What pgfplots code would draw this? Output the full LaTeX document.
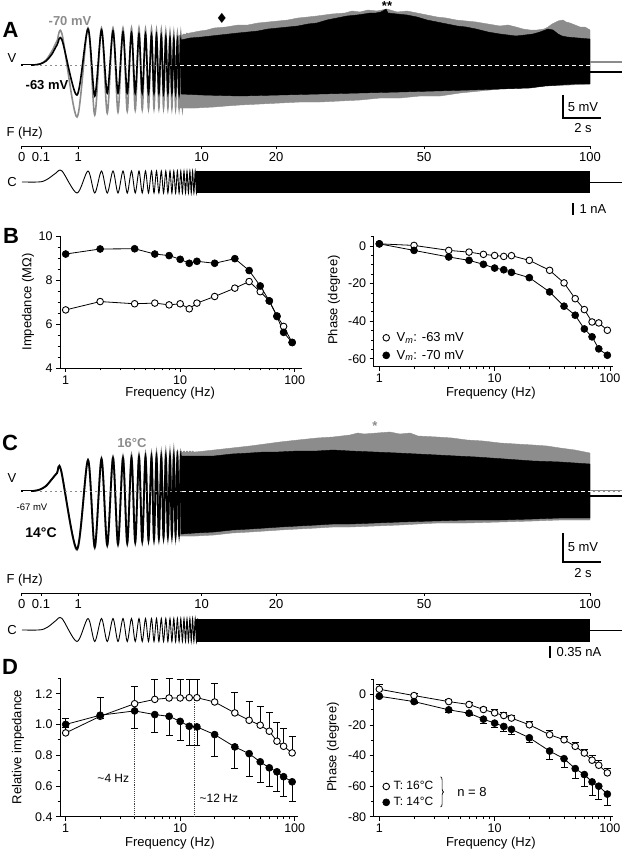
\documentclass[border=0pt]{standalone}
\usepackage{fontspec}
\setmainfont{Liberation Sans}
\newfontfamily\dejavu{DejaVu Sans}
\usepackage{pgfplots}
\pgfplotsset{compat=1.18}
\usetikzlibrary{decorations.pathreplacing}
\definecolor{tgray}{RGB}{140,140,140}
\newcommand\fs{\fontsize{13}{15}\selectfont}
\newcommand\fst{\fontsize{12.5}{14}\selectfont}
\newcommand\fsm{\fontsize{9.5}{11}\selectfont}
\newcommand\fsh{\fontsize{12}{14}\selectfont}
\newcommand\fsb{\fontsize{13}{15}\selectfont\bfseries}
\newcommand\fL{\fontsize{22}{24}\selectfont\bfseries}
\pgfplotsset{
 plotax/.style={scale only axis, axis x line*=bottom, axis y line*=left,
   tick align=outside, major tick length=4pt, minor tick length=2.5pt,
   xtick={1,10,100}, xticklabels={1,10,100},
   minor xtick={2,3,4,5,6,7,8,9,20,30,40,50,60,70,80,90},
   axis line style={line width=0.8pt}, tick style={black, line width=0.8pt},
   tick label style={font=\fst}, label style={font=\fs}, clip=false,
   legend image code/.code={\draw[##1] plot coordinates {(0pt,0pt)};},
   legend style={font=\fs, draw=none, fill=none, inner sep=0pt, cells={anchor=west}},
   /pgf/number format/assume math mode=true},
 fmark/.style={black, line width=0.8pt, mark=*, mark size=3.5pt, mark options={fill=black, draw=black, line width=0.6pt}},
 omark/.style={black, line width=0.8pt, mark=*, mark size=3.3pt, mark options={fill=white, draw=black, line width=0.9pt}},
 faxis/.style={scale only axis, width=568.3pt, height=5pt, xmin=21.7, xmax=590, ymin=0, ymax=1,
   axis x line*=bottom, axis y line=none, xtick={21.7,41,78.3,201.7,276,424,590},
   xticklabels={0,0.1,1,10,20,50,100}, tick align=outside, major tick length=3pt,
   tick style={black, line width=0.8pt}, axis line style={line width=0.8pt},
   tick label style={font=\fs}, /pgf/number format/assume math mode=true},
}
\begin{document}
\begin{tikzpicture}
\useasboundingbox (0,0) rectangle (622pt,852pt);
% ---------------- canvas for traces (pixel coordinates, y down)
\begin{axis}[at={(0pt,0pt)}, anchor=south west, scale only axis, width=622pt, height=852pt,
  xmin=0, xmax=622, ymin=0, ymax=852, y dir=reverse, hide axis, clip=false]
% ===== Panel A voltage
\addplot[tgray, line width=1.6pt, smooth] coordinates {(22,65)(33,65)(40,64)(46,60)(52,51)(57,41)(62,34)(77,117)(88,28)(94.75,115)(101.5,28)(107.25,113)(113,28)(118,112)(123,28)(127.25,111)(131.5,28)(135.25,110)(139,28)(142.25,109.5)(145.5,29)(148.5,109)(151.5,29)(154,108.5)(156.5,30)(158.9,108)(161.3,30)(163.55,108)(165.8,31)(167.9,108)(170,32)(171.9,108)(173.8,33)(175.6,108)(177.4,34)(179.1,108)(180.8,34)(182.4,108)(184,34)(185.5,108)(187,33)(188.45,108)(189.9,33)(191.25,108)(192.6,33)(193.9,108)(195.2,33)(196.45,108)(197.7,32)};
\addplot[fill=tgray, draw=tgray, line width=0.4pt] coordinates {(178,36)(190,33)(200,31)(207,30)(214,28)(226,27)(238,25)(248,25)(258,23)(268,22)(278,21)(288,20)(298,18)(308,17)(317,16)(332,14)(345,13)(352,11)(360,12)(368,10)(377,11)(387,9)(397,12)(407,11)(417,13)(427,15)(437,17)(446,18)(456,20)(466,21)(476,22)(488,24)(500,26)(508,25)(516,27)(523,29)(530,30)(537,30)(544,29)(548,27)(552,24)(558,21)(563,20)(566,22)(570,23)(575,25)(580,27)(585,27)(590,30)(590,84)(570,85)(545,86)(520,88)(500,89)(480,91)(460,93)(440,96)(420,96)(400,98)(380,98)(360,100)(340,101)(320,102)(300,102)(280,103)(260,104)(240,105)(226,106)(214,107)(195,108)(178,108)} -- cycle;
\addplot[black, line width=1.6pt, smooth] coordinates {(22,65)(33,65)(40,64)(46,61)(52,54)(57,45)(62,40)(77,95)(88,29)(94.75,96)(101.5,30)(107.25,93)(113,31)(118,93)(123,32)(127.25,93)(131.5,33)(135.25,93)(139,34)(142.25,93)(145.5,34)(148.5,93)(151.5,35)(154,93)(156.5,35)(158.9,93)(161.3,36)(163.55,93)(165.8,37)(167.9,93)(170,38)(171.9,93)(173.8,39)(175.6,93)(177.4,40)(179.1,94)(180.8,40)(182.4,94)};
\addplot[fill=black, draw=black, line width=0.4pt] coordinates {(181,40)(190,38)(202,37)(211,36)(220,35)(229,34)(238,33)(248,32)(258,31)(268,29)(278,28)(288,27)(298,26)(308,24)(317,23)(327,20)(337,18)(347,16)(357,15)(364,14)(370,13)(376,13)(381,12)(386,9)(388,13)(397,14)(407,15)(417,17)(427,20)(437,22)(447,24)(457,26)(466,27)(476,29)(488,32)(500,34)(508,35)(516,36)(525,35)(533,34)(540,32)(548,29)(553,30)(558,34)(562,36)(567,37)(578,38)(590,39)(590,84)(575,84)(560,85)(545,86)(530,88)(500,89)(470,90)(435,91)(400,92)(360,93)(320,94)(280,95)(240,96)(202,95)(181,94)} -- cycle;
\addplot[black, line width=2.6pt] coordinates {(21,65)(33,65)};
\addplot[white, line width=0.8pt] coordinates {(23,65)(31,65)};
\addplot[tgray, line width=1.6pt] coordinates {(590,62)(622,62)};
\addplot[black, line width=2pt] coordinates {(590,72)(622,72)};
\addplot[tgray, line width=0.9pt, dash pattern=on 2pt off 3pt] coordinates {(35,65)(180,65)};
\addplot[white, line width=1pt, dash pattern=on 4pt off 3pt] coordinates {(180,65)(590,65)};
\addplot[black, line width=1.5pt] coordinates {(563,95)(563,118)(601,118)};
% ===== Panel A current
\addplot[black, line width=0.9pt, smooth] coordinates {(22,182)(38,182)(44,181)(50,177.5)(56,173)(62,171)(77,193)(88,171)(94.75,193)(101.5,171)(107.25,193)(113,171)(118,193)(123,171)(127.25,193)(131.5,171)(135.25,193)(139,171)(142.25,193)(145.5,171)(148.5,193)(151.5,171)(154,193)(156.5,171)(158.9,193)(161.3,171)(163.55,193)(165.8,171)(167.9,193)(170,171)(171.9,193)(173.8,171)(175.6,193)(177.4,171)(179.1,193)(180.8,171)(182.4,193)(184,171)(185.5,193)(187,171)(188.45,193)(189.9,171)(191.25,193)(192.6,171)(193.9,193)(195.2,171)(196.45,193)(197.7,171)};
\addplot[fill=black, draw=none] coordinates {(196,171)(590,171)(590,193)(196,193)} -- cycle;
\addplot[black, line width=0.9pt] coordinates {(590,182)(622,182)};
\addplot[black, line width=1.5pt] coordinates {(573,203)(573,215)};
% ===== Panel C voltage
\addplot[tgray, line width=1.8pt, smooth] coordinates {(22,491)(33,491)(40,489.5)(46,486)(52,479)(57,473)(61,470)(77,550)(88,460)(94.75,548)(101.5,458)(107.25,546)(113,457)(118,545)(123,456)(127.25,544)(131.5,455)(135.25,543)(139,455)(142.25,542)(145.5,454)(148.5,541)(151.5,454)(154,540)(156.5,453)(158.9,539)(161.3,453)(163.55,538)(165.8,452)(167.9,538)(170,452)(171.9,537)(173.8,451)(175.6,537)(177.4,451)(179.1,536)(180.8,451)(182.4,536)(184,451)(185.5,536)(187,451)(188.45,536)(189.9,451)(191.25,536)(192.6,451)(193.9,536)(195.2,452)(196.45,536)(197.7,452)};
\addplot[fill=tgray, draw=tgray, line width=0.4pt] coordinates {(180,452)(195,452)(205,451)(214,450)(232,448)(250,446)(265,444)(280,442)(298,440)(317,438)(333,437)(350,435)(358,433)(364,434)(377,433)(390,432)(400,434)(410,433)(418,436)(437,437)(452,438)(467,440)(483,441)(500,443)(516,444)(533,445)(547,446)(560,448)(575,450)(590,453)(590,520)(560,520)(533,521)(500,522)(467,523)(437,523)(418,524)(400,525)(375,526)(350,527)(333,527)(317,528)(298,529)(280,530)(265,531)(250,532)(232,533)(214,535)(195,536)(180,536)} -- cycle;
\addplot[black, line width=1.8pt, smooth] coordinates {(22,491)(33,491)(40,489.5)(46,486)(52,479)(57,473)(61,470)(77,549)(88,460)(94.75,547)(101.5,459)(107.25,545)(113,458)(118,544)(123,458)(127.25,543)(131.5,458)(135.25,542)(139,457)(142.25,541)(145.5,457)(148.5,540)(151.5,457)(154,539)(156.5,457)(158.9,538)(161.3,457)(163.55,537)(165.8,457)(167.9,536)(170,457)(171.9,535)(173.8,457)(175.6,535)(177.4,457)(179.1,534)(180.8,457)(182.4,534)};
\addplot[fill=black, draw=black, line width=0.4pt] coordinates {(181,456)(195,456)(214,456)(232,454)(250,453)(264,452)(278,452)(298,451)(317,451)(333,450)(350,451)(374,452)(397,453)(417,454)(437,455)(456,456)(476,457)(505,459)(533,461)(560,462)(590,464)(590,518)(560,518)(533,519)(500,520)(467,520)(433,521)(400,522)(375,523)(350,524)(333,524)(317,525)(298,526)(280,527)(265,528)(250,529)(232,530)(214,532)(195,533)(181,534)} -- cycle;
\addplot[black, line width=2.6pt] coordinates {(21,491)(33,491)};
\addplot[white, line width=0.8pt] coordinates {(23,491)(31,491)};
\addplot[tgray, line width=2.4pt] coordinates {(590,491)(622,491)};
\addplot[white, line width=0.7pt, dash pattern=on 3pt off 2pt] coordinates {(590,491)(622,491)};
\addplot[black, line width=1.8pt] coordinates {(590,496)(622,496)};
\addplot[tgray, line width=0.9pt, dash pattern=on 2pt off 3pt] coordinates {(40,491)(182,491)};
\addplot[white, line width=1pt, dash pattern=on 4pt off 3pt] coordinates {(182,491)(590,491)};
\addplot[black, line width=1.5pt] coordinates {(563,533)(563,562)(601,562)};
% ===== Panel C current
\addplot[black, line width=0.9pt, smooth] coordinates {(22,630)(38,630)(44,629)(50,625.5)(56,620.5)(62,618.5)(77,641.5)(88,618.5)(94.75,641.5)(101.5,618.5)(107.25,641.5)(113,618.5)(118,641.5)(123,618.5)(127.25,641.5)(131.5,618.5)(135.25,641.5)(139,618.5)(142.25,641.5)(145.5,618.5)(148.5,641.5)(151.5,618.5)(154,641.5)(156.5,618.5)(158.9,641.5)(161.3,618.5)(163.55,641.5)(165.8,618.5)(167.9,641.5)(170,618.5)(171.9,641.5)(173.8,618.5)(175.6,641.5)(177.4,618.5)(179.1,641.5)(180.8,618.5)(182.4,641.5)(184,618.5)(185.5,641.5)(187,618.5)(188.45,641.5)(189.9,618.5)(191.25,641.5)(192.6,618.5)(193.9,641.5)(195.2,618.5)(196.45,641.5)(197.7,618.5)};
\addplot[fill=black, draw=none] coordinates {(196,618.5)(590,618.5)(590,641.5)(196,641.5)} -- cycle;
\addplot[black, line width=0.9pt] coordinates {(590,630)(622,630)};
\addplot[black, line width=1.5pt] coordinates {(550,646)(550,658)};
% ===== texts
\node[font=\fL] at (axis cs:10.5,29.5) {A};
\node[font=\fsb, text=tgray] at (axis cs:70,21) {-70 mV};
\node[font=\fs] at (axis cs:12,58) {V};
\node[font=\fsb] at (axis cs:47,85) {-63 mV};
\node[font=\dejavu\fontsize{14}{14}\selectfont] at (axis cs:222,18) {♦};
\node[font=\fsb] at (axis cs:387,6) {**};
\node[font=\fs] at (axis cs:583,107) {5 mV};
\node[font=\fs] at (axis cs:583,128) {2 s};
\node[font=\fs, anchor=west] at (axis cs:3,133) {F (Hz)};
\node[font=\fs] at (axis cs:12,182) {C};
\node[font=\fs, anchor=west] at (axis cs:576,209) {1 nA};
\node[font=\fL] at (axis cs:11,236) {B};
\node[font=\fL] at (axis cs:10,443) {C};
\node[font=\fsb, text=tgray] at (axis cs:132,443) {16°C};
\node[font=\fsb, text=tgray] at (axis cs:375,426) {*};
\node[font=\fs] at (axis cs:12,478) {V};
\node[font=\fsm] at (axis cs:32,507) {-67 mV};
\node[font=\fontsize{14}{16}\selectfont\bfseries] at (axis cs:41,533) {14°C};
\node[font=\fs] at (axis cs:583,547) {5 mV};
\node[font=\fs] at (axis cs:583,573) {2 s};
\node[font=\fs, anchor=west] at (axis cs:3,580) {F (Hz)};
\node[font=\fs] at (axis cs:12,630) {C};
\node[font=\fs, anchor=west] at (axis cs:553,652) {0.35 nA};
\node[font=\fL] at (axis cs:10,667) {D};
\end{axis}
% ---------------- frequency scales
\begin{axis}[faxis, at={(21.7pt,706pt)}, anchor=south west]
\addplot[draw=none] coordinates {(100,0.5)};
\end{axis}
\begin{axis}[faxis, at={(21.7pt,259pt)}, anchor=south west]
\addplot[draw=none] coordinates {(100,0.5)};
\end{axis}
% ---------------- Panel B left
\begin{semilogxaxis}[plotax, at={(60pt,484pt)}, anchor=south west, width=242pt, height=132pt,
  xmin=0.892, xmax=115.8, ymin=4, ymax=10, ytick={4,6,8,10}, minor y tick num=3,
  ylabel={Impedance (MΩ)}, xlabel={Frequency (Hz)},
  ylabel style={at={(axis description cs:-0.132,0.5)}, anchor=center},
  xlabel style={at={(axis description cs:0.455,-0.19)}, anchor=center}]
\addplot[omark] coordinates {(1,6.64)(2,7.02)(4,6.92)(6,6.95)(8,6.87)(10,6.92)(12,6.69)(14,6.95)(20,7.25)(30,7.63)(40,7.93)(50,7.47)(60,7.05)(70,6.37)(80,5.89)(95,5.16)};
\addplot[fmark] coordinates {(1,9.18)(2,9.41)(4,9.42)(6,9.18)(8,9.11)(10,8.94)(12,8.76)(14,8.85)(20,8.76)(30,8.97)(40,8.43)(50,7.73)(60,7.05)(70,6.34)(80,5.62)(95,5.16)};
\end{semilogxaxis}
% ---------------- Panel B right
\begin{semilogxaxis}[plotax, at={(373.7pt,485.3pt)}, anchor=south west, width=239pt, height=130pt,
  xmin=0.894, xmax=105.7, ymin=-64.2, ymax=5, ytick={0,-20,-40,-60}, minor ytick={5,-5,-10,-15,-25,-30,-35,-45,-50,-55},
  ylabel={Phase (degree)}, xlabel={Frequency (Hz)},
  ylabel style={at={(axis description cs:-0.166,0.513)}, anchor=center},
  xlabel style={at={(axis description cs:0.49,-0.2)}, anchor=center},
  legend style={at={(axis description cs:0.037,0.28)}, anchor=north west, row sep=3pt, column sep=5pt}]
\addplot[omark, forget plot] coordinates {(1,1.2)(2,0.35)(4,-2.3)(6,-3.2)(8,-4.4)(10,-5.0)(12,-5.5)(14,-5.1)(20,-7.6)(30,-12.9)(40,-19.6)(50,-28.0)(60,-33.8)(70,-40.4)(80,-40.9)(95,-44.8)};
\addplot[fmark, forget plot] coordinates {(1,1.2)(2,-2.3)(4,-5.8)(6,-7.6)(8,-9.7)(10,-11.7)(12,-12.6)(14,-14.0)(20,-16.8)(30,-24.4)(40,-32.0)(50,-36.8)(60,-44.1)(70,-48.3)(80,-54.7)(95,-58.1)};
\addlegendimage{omark}
\addlegendentry{V\textsubscript{\textit{m}}: -63 mV}
\addlegendimage{fmark}
\addlegendentry{V\textsubscript{\textit{m}}: -70 mV}
\end{semilogxaxis}
% ---------------- Panel D left
\begin{semilogxaxis}[plotax, at={(60pt,35.3pt)}, anchor=south west, width=238pt, height=138.4pt,
  xmin=0.892, xmax=106.9, ymin=0.4, ymax=1.3, ytick={0.4,0.6,0.8,1.0,1.2}, minor ytick={0.5,0.7,0.9,1.1,1.3},
  yticklabel style={/pgf/number format/.cd, fixed, fixed zerofill, precision=1},
  ylabel={Relative impedance}, xlabel={Frequency (Hz)},
  ylabel style={at={(axis description cs:-0.176,0.504)}, anchor=center},
  xlabel style={at={(axis description cs:0.462,-0.19)}, anchor=center}]
\addplot[black!75, line width=0.9pt, densely dotted] coordinates {(4,0.4)(4,1.13)};
\addplot[black!75, line width=0.9pt, densely dotted] coordinates {(13.3,0.4)(13.3,1.17)};
\addplot[omark, error bars/.cd, y dir=plus, y explicit, error bar style={line width=0.8pt, black}, error mark options={rotate=90, mark size=3.5pt, line width=0.8pt, black}]
 coordinates {(1,0.945) +- (0,0.093) (2,1.053) +- (0,0.121) (4,1.135) +- (0,0.115) (6,1.163) +- (0,0.127) (8,1.172) +- (0,0.125) (10,1.172) +- (0,0.118) (12,1.174) +- (0,0.116) (14,1.174) +- (0,0.116) (20,1.146) +- (0,0.124) (30,1.075) +- (0,0.132) (40,1.027) +- (0,0.123) (50,0.995) +- (0,0.125) (60,0.956) +- (0,0.121) (70,0.891) +- (0,0.125) (80,0.858) +- (0,0.119) (95,0.815) +- (0,0.11)};
\addplot[fmark, error bars/.cd, y dir=minus, y explicit, error bar style={line width=0.8pt, black}, error mark options={rotate=90, mark size=3.5pt, line width=0.8pt, black}]
 coordinates {(1,1.0) +- (0,0.02) (2,1.06) +- (0,0.02) (4,1.088) +- (0,0.115) (6,1.064) +- (0,0.113) (8,1.053) +- (0,0.123) (10,1.02) +- (0,0.123) (12,0.988) +- (0,0.123) (14,0.984) +- (0,0.119) (20,0.934) +- (0,0.14) (30,0.854) +- (0,0.14) (40,0.81) +- (0,0.146) (50,0.757) +- (0,0.137) (60,0.718) +- (0,0.123) (70,0.692) +- (0,0.13) (80,0.66) +- (0,0.13) (95,0.627) +- (0,0.13)};
\node[font=\fsh, anchor=east] at (axis cs:3.85,0.651) {\textasciitilde 4 Hz};
\node[font=\fsh, anchor=west] at (axis cs:13.8,0.521) {\textasciitilde 12 Hz};
\end{semilogxaxis}
% ---------------- Panel D right
\begin{semilogxaxis}[plotax, at={(373.7pt,35.3pt)}, anchor=south west, width=239pt, height=137.4pt,
  xmin=0.894, xmax=105.7, ymin=-80, ymax=10, ytick={0,-20,-40,-60,-80}, minor ytick={10,-10,-30,-50,-70},
  ylabel={Phase (degree)}, xlabel={Frequency (Hz)},
  ylabel style={at={(axis description cs:-0.17,0.507)}, anchor=center},
  xlabel style={at={(axis description cs:0.49,-0.19)}, anchor=center},
  legend style={font=\fsh, at={(axis description cs:0.037,0.272)}, anchor=north west, row sep=2pt, column sep=2pt}]
\addplot[omark, forget plot, error bars/.cd, y dir=plus, y explicit, error bar style={line width=0.8pt, black}, error mark options={rotate=90, mark size=3.5pt, line width=0.8pt, black}]
 coordinates {(1,3.5) +- (0,3) (2,-0.65) +- (0,1.5) (4,-4.6) +- (0,1.5) (6,-6.5) +- (0,1.5) (8,-9.8) +- (0,1.5) (10,-12.0) +- (0,2) (12,-13.7) +- (0,2) (14,-15.4) +- (0,2) (20,-19.8) +- (0,2) (30,-26.3) +- (0,3) (40,-29.6) +- (0,2.5) (50,-33.9) +- (0,2.5) (60,-38.3) +- (0,2.5) (70,-43.0) +- (0,3) (80,-46.3) +- (0,3) (95,-51.3) +- (0,3)};
\addplot[fmark, forget plot, error bars/.cd, y dir=minus, y explicit, error bar style={line width=0.8pt, black}, error mark options={rotate=90, mark size=3.5pt, line width=0.8pt, black}]
 coordinates {(1,-1.1) +- (0,0.5) (2,-4.6) +- (0,1.5) (4,-10) +- (0,1.5) (6,-12.2) +- (0,1.5) (8,-16.1) +- (0,3) (10,-18.7) +- (0,3) (12,-20.9) +- (0,3.1) (14,-22.8) +- (0,3.2) (20,-28.3) +- (0,3.2) (30,-37) +- (0,5.6) (40,-42) +- (0,6) (50,-48.5) +- (0,6.5) (60,-52.4) +- (0,8) (70,-57.2) +- (0,9.1) (80,-60) +- (0,8.7) (95,-65.2) +- (0,7.6)};
\addlegendimage{omark}
\addlegendentry{T: 16°C}
\addlegendimage{fmark}
\addlegendentry{T: 14°C}
\draw[decorate, decoration={brace, amplitude=3pt}, line width=0.7pt] (axis description cs:0.28,0.29) -- (axis description cs:0.28,0.07);
\node[font=\fs, anchor=west] at (axis description cs:0.335,0.18) {n = 8};
\end{semilogxaxis}
\end{tikzpicture}
\end{document}
